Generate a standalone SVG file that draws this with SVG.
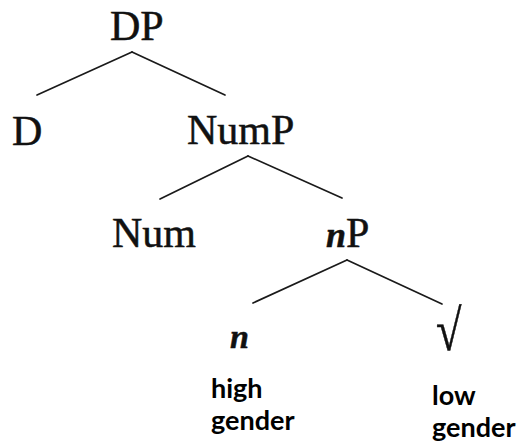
<svg xmlns="http://www.w3.org/2000/svg" width="520" height="443" viewBox="0 0 520 443">
<style>
.t{font-family:"Liberation Serif","Times New Roman",serif;font-size:42px;fill:#111;stroke:#111;stroke-width:0.5}
.i{font-style:italic;font-weight:bold}
.l{font-family:Lato,"Open Sans","Liberation Sans",sans-serif;font-weight:bold;font-size:27px;fill:#000}
.e{stroke:#1a1a1a;stroke-width:1.7;fill:none;stroke-linecap:round}
</style>
<rect width="520" height="443" fill="#fff"/>
<g id="connectors">
<line class="e" x1="132" y1="52" x2="37" y2="95"/>
<line class="e" x1="132" y1="52" x2="225" y2="95"/>
<line class="e" x1="248" y1="156" x2="160" y2="199"/>
<line class="e" x1="248" y1="156" x2="342" y2="198"/>
<line class="e" x1="347" y1="260" x2="253" y2="303"/>
<line class="e" x1="347" y1="260" x2="442" y2="304"/>
</g>
<g id="DP"><text class="t" x="110" y="40">DP</text></g>
<g id="D"><text class="t" x="12" y="145">D</text></g>
<g id="NumP"><text class="t" x="187" y="144">NumP</text></g>
<g id="Num"><text class="t" x="112" y="247">Num</text></g>
<g id="nP"><text class="t" x="326" y="247"><tspan class="i" style="font-size:36px">n</tspan>P</text></g>
<g id="n"><text class="t i" x="230" y="348" style="font-size:34px">n</text></g>
<g id="root"><text class="t" x="436" y="350" style="font-size:58px" transform="translate(436 350) scale(0.8 1) translate(-436 -350)">√</text></g>
<g id="high"><text class="l" x="211" y="398">high</text><text class="l" x="211" y="430">gender</text></g>
<g id="low"><text class="l" x="432" y="405">low</text><text class="l" x="432" y="437">gender</text></g>
</svg>
